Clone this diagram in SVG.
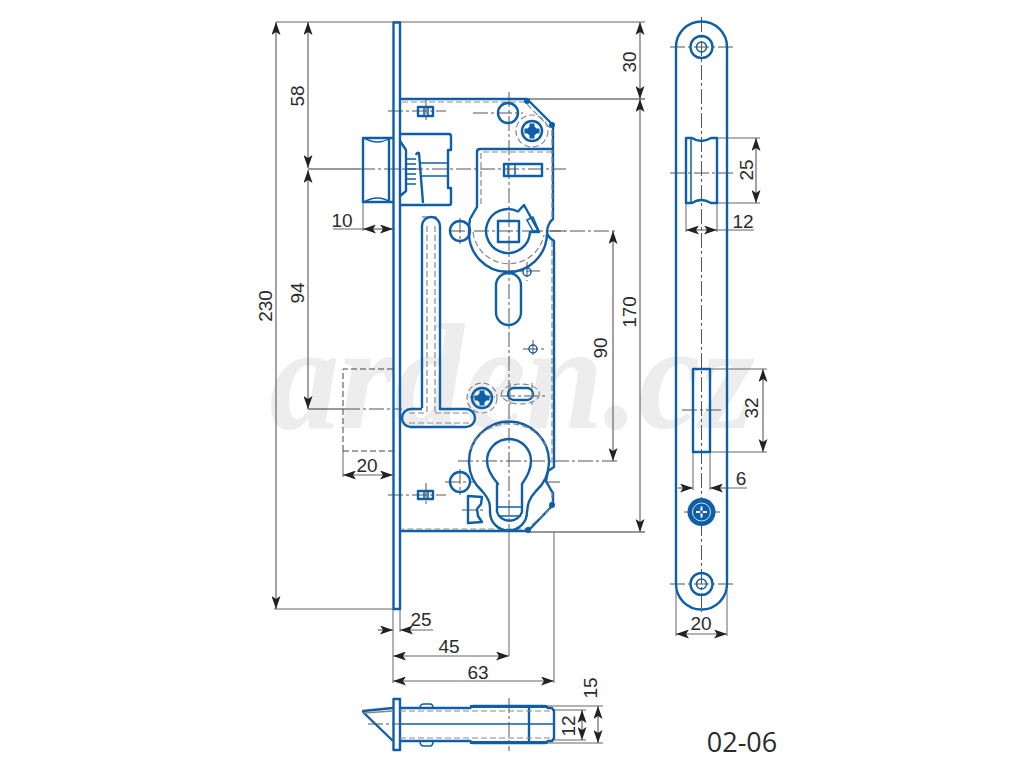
<svg xmlns="http://www.w3.org/2000/svg" width="1024" height="768" viewBox="0 0 1024 768">
<style>
.b{fill:none;stroke:#0f5fa8;stroke-width:2.4;stroke-linejoin:round}
.t{fill:none;stroke:#0f5fa8;stroke-width:1.5}
.f{fill:#0f5fa8;stroke:none}
.g{fill:none;stroke:#8a8a8a;stroke-width:1.2;stroke-dasharray:6 3}
.c{fill:none;stroke:#555;stroke-width:1;stroke-dasharray:15 3 3 3}
.e{fill:none;stroke:#666;stroke-width:1}
.n{fill:none;stroke:#333;stroke-width:1.1}
.d{fill:none;stroke:#666;stroke-width:1.2;marker-start:url(#a);marker-end:url(#a)}
.s{fill:none;stroke:#666;stroke-width:1.2;marker-end:url(#a)}
.k{fill:none;stroke:#444;stroke-width:1;stroke-dasharray:6 3}
text{font-family:"Liberation Sans",Arial,sans-serif;font-size:19px;fill:#2b2b2b;text-anchor:middle}
</style>
<defs>
<marker id="a" viewBox="0 0 13 9" refX="13" refY="4.5" markerWidth="13" markerHeight="9" markerUnits="userSpaceOnUse" orient="auto-start-reverse"><path d="M0 0L13 4.5L0 9L3 4.5Z" fill="#222"/></marker>
<g id="scr"><circle r="10" fill="none" stroke="#0f5fa8" stroke-width="2.5"/><circle r="5" class="f"/><path d="M-7.5 0H7.5M0-7.5V7.5" stroke="#0f5fa8" stroke-width="5" fill="none"/></g>
</defs>
<rect width="1024" height="768" fill="#fff"/>
<text id="watermark" x="512" y="428" textLength="485" lengthAdjust="spacingAndGlyphs" style="font-family:'Liberation Serif',serif;font-style:italic;font-weight:bold;font-size:150px;fill:#ededed">arden.cz</text>

<g id="connectors">
<path class="e" d="M276 22H393M274 609H393M393 22H645"/>
<path class="n" d="M527 99H645M528 532H645"/>
<path class="d" d="M276 22V609"/>
<path class="d" d="M308 22V168"/>
<path class="d" d="M308 170V409"/>
<path class="d" d="M640 22V99"/>
<path class="d" d="M640 99V532"/>
<path class="d" d="M613 231V461"/>
<path class="n" d="M308 169H360M308 409H345"/>
<path class="e" d="M363 202V231M333 229H363"/>
<path class="d" d="M363 229H393"/>
<path class="k" d="M343 451V369H393M343 451H393"/>
<path class="e" d="M343 451V477"/>
<path class="d" d="M343 475H393"/>
<path class="e" d="M393 609V683M400 609V632M509 532V656M554 532V683"/>
<path class="s" d="M378 630H393"/>
<path class="s" d="M433 630H400"/>
<path class="d" d="M393 656H509"/>
<path class="d" d="M393 681H554"/>
<path class="e" d="M554 710H586M554 740H586M547 706H603M547 743H603"/>
<path class="d" d="M582 710V740"/>
<path class="d" d="M598 706V743"/>
<path class="e" d="M717 138H760M717 203H760M686 203V232M717 203V232M717 230H754"/>
<path class="d" d="M756 138V203"/>
<path class="d" d="M686 230H717"/>
<path class="e" d="M710 369H767M710 452H767M693 452V490M710 452V490M725 488H747"/>
<path class="d" d="M763 369V452"/>
<path class="s" d="M678 488H693"/>
<path class="s" d="M725 488H710"/>
<path class="e" d="M676 590V636M727 590V636"/>
<path class="d" d="M676 634H727"/>
<path class="c" d="M360 169H566M345 409H402M450 231H618M458 461H618M509 92V532"/>
<path class="c" d="M388 111H446M388 495H446M426 99V123M426 483V507"/>
<path class="c" d="M500 396H545M470 397H495M473 113H523M460 218V244M460 469V495M445 482H475M462 510H483M545 482H561M550 231H566"/>
<path class="c" d="M502 271H540M533 340V358M523 349H545M527 262V281M422 217H440"/>
<path class="c" d="M701.5 17V612M670 47H733M670 584H733M670 173H733M682 410H722M684 512H720"/>
<path class="c" d="M368 724H400M509 698V751"/>
</g>

<g id="lock-body">
<rect class="b" x="393.5" y="22.5" width="6.5" height="586.5"/>
<path class="b" d="M400 99H527L553 125V219C549 222 547 228 547 232C547 236 550 238 554 241V467L548 471L546 481L551 490L553 493V505L528 531H400"/>
<path class="g" d="M402 102H525L552 130V220M552 241V466M552 492V507L527 529H402"/>
<circle class="f" cx="527" cy="101" r="3"/><circle class="f" cx="552" cy="125" r="3"/><circle class="f" cx="528" cy="530" r="3"/><circle class="f" cx="552" cy="505" r="3"/>
<path class="b" d="M554 149H480Q477 149 477 152V207L470 219Q469 224 469 232A39 39 0 0 0 547 234"/>
<path class="g" d="M552 152H481V205M473 232A36 36 0 0 0 544 235"/>
</g>

<g id="bolt">
<path class="b" d="M393 138H363V202H393M389 138V202"/>
<path class="t" d="M364 138Q378 146 390 138M364 202Q378 194 390 202"/>
<path class="b" d="M400 134H449Q451 134 451 137V150H448V188H451V203Q451 205 449 205H400"/>
<path class="b" d="M400 141L406 150V191L400 196"/>
<path class="t" d="M406 159H416M406 164H416M406 169H416M406 174H416M406 179H416M406 184H416"/>
<path class="b" d="M416 155Q417 152 419 153L423 203"/>
<path class="t" d="M419 163H449M420 176H449"/>
</g>

<g id="hub">
<path class="b" d="M530 232A22 22 0 1 1 518 211.5L524 205L539 232Z"/>
<path class="t" d="M527 220L533 217L539 231H533Z"/>
<rect class="b" x="498" y="221" width="21" height="21"/>
</g>

<g id="holes">
<circle class="b" cx="508" cy="113" r="10"/>
<circle class="b" cx="460" cy="231" r="10"/>
<circle class="b" cx="460" cy="482" r="10"/>
<circle class="t" cx="527" cy="272" r="4"/>
<circle class="t" cx="533" cy="349" r="4"/>
<rect class="b" x="496" y="273" width="25" height="52" rx="12.5"/>
<rect class="b" x="508" y="388" width="25" height="12" rx="6"/>
<ellipse class="g" cx="520.5" cy="394" rx="19" ry="10"/>
<path class="g" d="M510 383V405M532 383V405"/>
<rect class="b" x="418" y="107" width="15" height="9"/>
<path class="t" d="M424 107V116M428 107V116"/>
<rect class="b" x="418" y="491" width="15" height="8"/>
<path class="t" d="M424 491V499M428 491V499"/>
<rect class="b" x="504" y="164" width="38" height="12"/>
<path class="t" d="M508 164V176M515 164V176"/>
</g>

<g id="screw-top" transform="translate(532 131)">
<circle r="16" class="g" stroke-dasharray="3 2"/>
<use href="#scr"/>
</g>
<g id="screw-left" transform="translate(482 398)">
<circle r="15" class="g" stroke-dasharray="3 2"/>
<use href="#scr"/>
</g>

<g id="t-slot">
<path class="b" d="M422 408V226A9 9 0 0 1 440 226V409H466A9 9 0 0 1 466 427H411A9 9 0 0 1 411 409H422"/>
<path class="g" d="M427 226V413M435 226V413M435 413H470M409 413H427M409 423H470"/>
</g>

<g id="cylinder">
<path class="b" d="M482 491A40 40 0 1 1 536 491C527 501 528 506 527 512A18 18 0 0 1 490 512C490 506 491 501 482 491Z"/>
<path class="g" d="M470 450A42 42 0 0 1 548 450"/>
<path class="b" d="M498 484C492 477 487 470 487 461A22 22 0 0 1 531 461C531 470 527 477 522 484V512A13 12 0 0 1 497 512V484Z"/>
<path class="t" d="M497 507H522M498 516H521"/>
<path class="b" d="M482 497L468 496V523L482 522L478 516L477 509L481 504Z"/>
</g>

<g id="bolt-plan">
<rect class="b" x="393.5" y="699" width="6.5" height="51"/>
<path class="b" d="M400 708H470L473 706H545L548 708H552L554 711V738L552 741H548L545 743H473L470 741H400"/>
<path class="f" d="M470 705H547L549 708H470ZM470 741H549L547 744H470Z"/>
<path class="t" d="M400 724H554"/>
<path class="b" d="M529 708V741"/>
<path class="g" d="M400 711H552M400 738H552"/>
<path class="t" d="M420 708Q420 704 424 704H430Q433 704 433 708M420 741Q420 746 424 746H430Q433 746 433 741"/>
<path class="b" d="M393 708L363 711L364 713L393 741"/>
<path d="M364 713L393 711" stroke="#888" stroke-width="1.5" fill="none"/>
</g>

<g id="strike-plate">
<path class="b" d="M676 47A25.5 25.5 0 0 1 727 47V584A25.5 25.5 0 0 1 676 584Z"/>
<circle class="b" cx="701.5" cy="47" r="11"/>
<circle class="t" cx="701.5" cy="47" r="5"/>
<circle class="b" cx="701.5" cy="584" r="11"/>
<circle class="t" cx="701.5" cy="584" r="5"/>
<path class="b" d="M686 138H692Q701 144 711 138H717V203H711Q701 197 692 203H686Z"/>
<path class="t" d="M691 138V203"/>
<rect class="b" x="693" y="369" width="17" height="83"/>
<circle class="f" cx="701.5" cy="512" r="14"/>
<circle cx="701.5" cy="512" r="9" fill="none" stroke="#cfe0f0" stroke-width="1"/>
<path d="M696 512H707M701.5 506.5V517.5" stroke="#fff" stroke-width="2" fill="none"/>
<circle class="f" cx="701.5" cy="512" r="1.5"/>
</g>

<g id="labels">
<text transform="translate(272 306) rotate(-90)">230</text>
<text transform="translate(304 96) rotate(-90)">58</text>
<text transform="translate(304 293) rotate(-90)">94</text>
<text transform="translate(636 62) rotate(-90)">30</text>
<text transform="translate(636 312) rotate(-90)">170</text>
<text transform="translate(607 348) rotate(-90)">90</text>
<text x="342" y="227">10</text>
<text x="367" y="472">20</text>
<text x="421" y="626">25</text>
<text x="449" y="653">45</text>
<text x="478" y="679">63</text>
<text transform="translate(597 688) rotate(-90)">15</text>
<text transform="translate(575 726) rotate(-90)">12</text>
<text transform="translate(753 170) rotate(-90)">25</text>
<text x="743" y="228">12</text>
<text transform="translate(758 408) rotate(-90)">32</text>
<text x="741" y="485">6</text>
<text x="701" y="630">20</text>
<text x="742" y="752" style="font-family:'Open Sans',sans-serif;font-size:27px">02-06</text>
</g>
</svg>
